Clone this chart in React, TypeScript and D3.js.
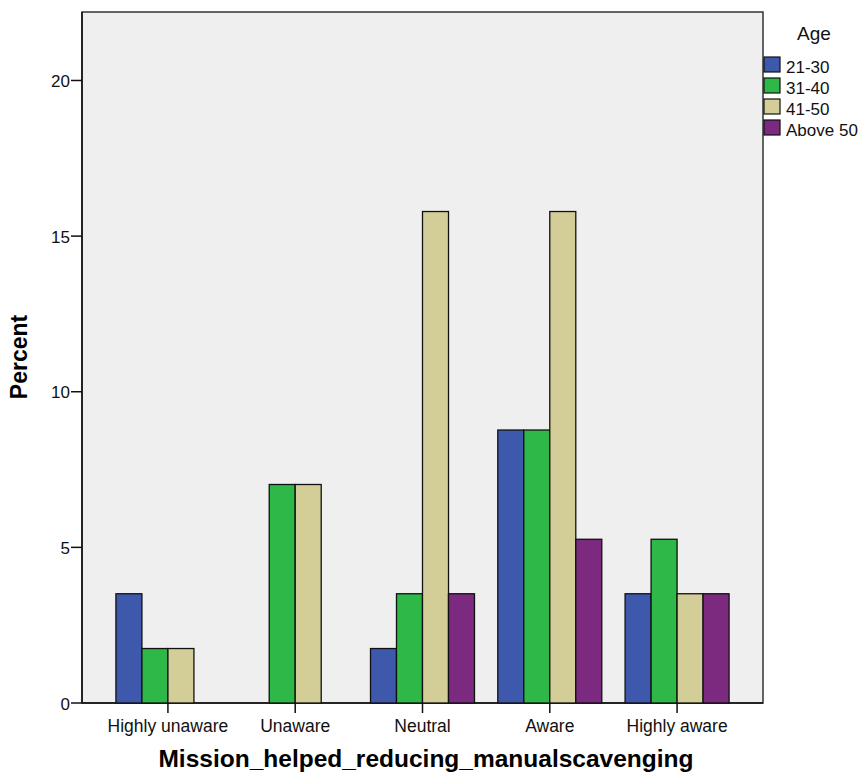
import React from "react";
import * as d3 from "d3";

const categories = ["Highly unaware", "Unaware", "Neutral", "Aware", "Highly aware"];
const seriesNames = ["21-30", "31-40", "41-50", "Above 50"];
const s2130 = [3.51, 0, 1.75, 8.77, 3.51];
const s3140 = [1.75, 7.02, 3.51, 8.77, 5.26];
const s4150 = [1.75, 7.02, 15.79, 15.79, 3.51];
const sAbove50 = [0, 0, 3.51, 5.26, 3.51];
const seriesValues = [s2130, s3140, s4150, sAbove50];
const colors = ["#3E58AC", "#2EB848", "#D3CE97", "#7C2A80"];
const yTicks = [0, 5, 10, 15, 20];

const W = 863, H = 776;
const L = 82, R = 763, T = 12, B = 703;
const FONT = "'Liberation Sans', Arial, Helvetica, sans-serif";

export default function App() {
  const x = d3.scaleBand<string>().domain(categories).range([L, R]).paddingInner(0).paddingOuter(0.175);
  const barW = x.bandwidth() * 0.817;
  const xs = d3.scaleBand<string>().domain(seriesNames).range([0, barW]);
  const y = d3.scaleLinear().domain([0, 22.2]).range([B, T]);
  return (
    <svg width={W} height={H} style={{ position: "absolute", left: 0, top: 0, background: "#fff" }} fontFamily={FONT}>
      <rect x={L} y={T} width={R - L} height={B - T} fill="#EFEFEF" stroke="#333" strokeWidth={1.5} />
      <line x1={L} x2={L} y1={T} y2={B} stroke="#111" strokeWidth={1.5} />
      <line x1={L} x2={R} y1={B} y2={B} stroke="#111" strokeWidth={1.5} />
      {categories.map((c, ci) => {
        const x0 = (x(c) as number) + (x.bandwidth() - barW) / 2;
        return (
          <g key={c}>
            {seriesNames.map((s, si) => {
              const v = seriesValues[si][ci];
              return (
                <rect key={s} x={x0 + (xs(s) as number)} y={y(v)} width={xs.bandwidth()} height={B - y(v)}
                  fill={colors[si]} stroke="#111" strokeWidth={v === 0 ? 2.4 : 1.3} />
              );
            })}
          </g>
        );
      })}
      {yTicks.map((t) => (
        <g key={t}>
          <line x1={L - 11} x2={L} y1={y(t)} y2={y(t)} stroke="#111" strokeWidth={1.5} />
          <text x={L - 12} y={y(t) + 6.5} fontSize={17} textAnchor="end" fill="#111">{t}</text>
        </g>
      ))}
      {categories.map((c) => {
        const cx = (x(c) as number) + x.bandwidth() / 2;
        return (
          <g key={c}>
            <line x1={cx} x2={cx} y1={B} y2={B + 10} stroke="#111" strokeWidth={1.5} />
            <text x={cx} y={B + 29} fontSize={17.5} textAnchor="middle" fill="#111">{c}</text>
          </g>
        );
      })}
      <text x={426} y={767} fontSize={24.5} fontWeight="bold" textAnchor="middle" fill="#000">Mission_helped_reducing_manualscavenging</text>
      <text transform={`translate(27,${357}) rotate(-90)`} fontSize={23} fontWeight="bold" textAnchor="middle" fill="#000">Percent</text>
      <text x={814} y={40} fontSize={19} textAnchor="middle" fill="#111">Age</text>
      {seriesNames.map((s, i) => (
        <g key={s}>
          <rect x={764} y={57 + i * 21} width={16} height={15} fill={colors[i]} stroke="#111" strokeWidth={1.2} />
          <text x={786} y={73 + i * 21} fontSize={17} fill="#111">{s}</text>
        </g>
      ))}
    </svg>
  );
}
